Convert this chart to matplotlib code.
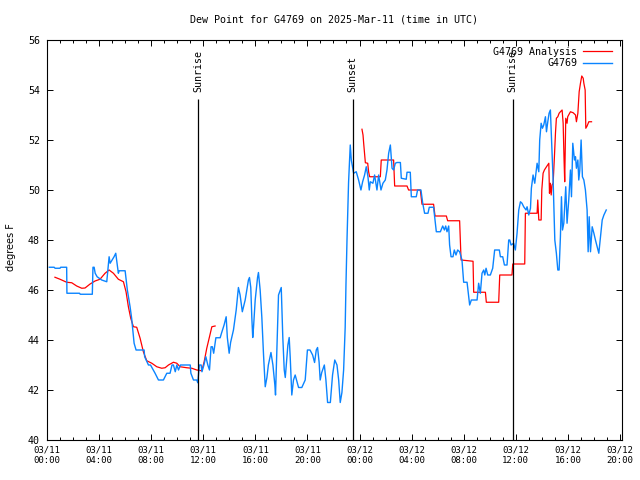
import numpy as np
import matplotlib
matplotlib.use("Agg")
import matplotlib.pyplot as plt
from matplotlib.ticker import MultipleLocator

plt.rcParams['font.family'] = ['DejaVu Sans Mono']

# G4769 observations : heures depuis 03/11 00:00 UTC, point de rosee (F)
obs_h = [0.18, 0.55, 0.62, 1.0, 1.05, 1.51, 1.53, 2.5, 2.55, 3.48, 3.53, 3.62, 3.7, 3.85, 4.2,
         4.59, 4.77, 4.85, 5.0, 5.15, 5.28, 5.48, 5.55, 6.0, 6.1, 6.17, 6.38, 6.5, 6.69, 6.84,
         7.46, 7.5, 7.79, 7.95, 8.3, 8.56, 8.94, 9.2, 9.45, 9.6, 9.71, 9.85, 9.97, 10.1, 10.25,
         11.0, 11.05, 11.25, 11.5, 11.58, 11.7, 11.84, 11.9, 12.05, 12.2, 12.35, 12.48, 12.6,
         12.7, 12.8, 12.97, 13.3, 13.4, 13.6, 13.76, 13.85, 13.99, 14.1, 14.32, 14.53, 14.7,
         14.83, 15.0, 15.22, 15.47, 15.55, 15.65, 15.73, 15.8, 15.86, 15.99, 16.17, 16.24,
         16.37, 16.5, 16.63, 16.76, 16.89, 17.0, 17.2, 17.35, 17.5, 17.55, 17.65, 17.78, 17.99,
         18.11, 18.22, 18.3, 18.42, 18.5, 18.6, 18.68, 18.8, 18.93, 19.06, 19.32, 19.57, 19.83,
         20.0, 20.2, 20.4, 20.55, 20.68, 20.78, 20.9, 20.98, 21.1, 21.3, 21.42, 21.55, 21.76,
         21.93, 22.1, 22.27, 22.4, 22.52, 22.65, 22.78, 22.9, 22.96, 23.04, 23.16, 23.29, 23.37,
         23.55, 23.75, 23.93, 24.11, 24.24, 24.39, 24.52, 24.65, 24.75, 24.83, 25.03, 25.16,
         25.34, 25.47, 25.65, 25.8, 25.98, 26.11, 26.24, 26.37, 26.5, 26.62, 26.75, 26.88,
         27.14, 27.21, 27.59, 27.65, 27.9, 27.98, 28.36, 28.46, 28.72, 28.85, 29.0, 29.26,
         29.36, 29.69, 29.77, 29.9, 30.21, 30.39, 30.52, 30.62, 30.72, 30.85, 30.92, 31.03,
         31.18, 31.28, 31.41, 31.54, 31.69, 31.87, 32.0, 32.26, 32.33, 32.46, 32.59, 33.03,
         33.15, 33.28, 33.41, 33.54, 33.62, 33.72, 33.85, 34.05, 34.23, 34.38, 34.74, 34.82,
         35.0, 35.13, 35.33, 35.46, 35.54, 35.64, 35.84, 35.97, 36.1, 36.23, 36.36, 36.48,
         36.61, 36.79, 36.87, 37.0, 37.13, 37.2, 37.33, 37.46, 37.56, 37.64, 37.77, 37.84,
         37.95, 38.05, 38.15, 38.28, 38.36, 38.46, 38.56, 38.66, 38.74, 38.87, 39.0, 39.12,
         39.23, 39.33, 39.43, 39.51, 39.59, 39.69, 39.84, 39.94, 40.07, 40.2, 40.28, 40.38,
         40.51, 40.59, 40.66, 40.77, 40.84, 40.92, 41.02, 41.12, 41.23, 41.35, 41.48, 41.56,
         41.64, 41.74, 41.87, 42.0, 42.12, 42.25, 42.38, 42.51, 42.64, 42.77, 42.95]
obs_t = [46.91, 46.91, 46.87, 46.87, 46.91, 46.91, 45.87, 45.87, 45.83, 45.83, 46.91, 46.91,
         46.67, 46.53, 46.4, 46.33, 47.33, 47.07, 47.2, 47.33, 47.47, 46.67, 46.77, 46.77,
         46.33, 46.0, 45.33, 44.87, 43.87, 43.6, 43.6, 43.33, 43.0, 43.0, 42.67, 42.4, 42.4,
         42.67, 42.67, 43.0, 43.0, 42.73, 43.0, 42.8, 43.0, 43.0, 42.67, 42.4, 42.4, 42.29,
         43.0, 43.0, 42.73, 43.0, 43.33, 43.0, 42.8, 43.73, 43.73, 43.47, 44.09, 44.09, 44.27,
         44.6, 44.93, 44.1, 43.47, 43.9, 44.4, 45.2, 46.1, 45.8, 45.13, 45.6, 46.4, 46.5, 46.1,
         44.9, 44.1, 44.5, 45.6, 46.5, 46.7, 46.0, 44.9, 43.4, 42.13, 42.5, 43.0, 43.5, 43.0,
         42.2, 41.8, 43.6, 45.8, 46.1, 44.1, 42.8, 42.5, 43.3, 43.8, 44.1, 43.3, 41.8, 42.4,
         42.6, 42.1, 42.1, 42.4, 43.6, 43.6, 43.4, 43.1, 43.6, 43.7, 43.1, 42.4, 42.7, 43.0,
         42.4, 41.5, 41.5, 42.6, 43.2, 43.0, 42.4, 41.5, 41.9, 42.8, 44.5, 46.2, 48.0, 50.3,
         51.8, 51.2, 50.67, 50.73, 50.4, 50.0, 50.33, 50.6, 50.93, 50.53, 50.0, 50.33, 50.27,
         50.6, 50.0, 50.6, 50.0, 50.27, 50.4, 50.8, 51.47, 51.8, 50.87, 50.8, 51.07, 51.1,
         51.1, 50.47, 50.43, 50.71, 50.71, 49.73, 49.73, 50.0, 50.0, 49.49, 49.07, 49.07,
         49.31, 49.31, 48.93, 48.33, 48.33, 48.56, 48.4, 48.56, 48.33, 48.56, 47.8, 47.33,
         47.33, 47.6, 47.4, 47.6, 47.53, 47.2, 46.31, 46.31, 46.0, 45.4, 45.6, 45.6, 46.27,
         45.87, 46.67, 46.8, 46.6, 46.87, 46.6, 46.6, 46.87, 47.6, 47.6, 47.33, 47.33, 47.0,
         47.0, 48.0, 48.0, 47.8, 47.87, 47.6, 48.27, 49.2, 49.53, 49.47, 49.33, 49.2, 49.33,
         49.0, 49.27, 50.07, 50.6, 50.27, 50.73, 51.07, 50.73, 52.0, 52.67, 52.47, 52.6, 52.93,
         52.33, 52.73, 53.07, 53.2, 52.13, 50.4, 48.0, 47.47, 46.8, 46.8, 48.13, 49.73, 48.4,
         48.67, 50.13, 48.67, 49.6, 50.8, 49.73, 51.87, 51.2, 51.33, 50.87, 51.2, 50.4, 50.8,
         52.0, 50.53, 50.4, 50.0, 49.2, 47.53, 48.93, 47.53, 48.53, 48.27, 48.0, 47.73, 47.47,
         48.13, 48.8, 49.0, 49.2]

# G4769 Analysis (nan = pas de donnees)
ana_h = [0.61, 1.0, 1.51, 1.9, 2.28, 2.67, 2.92, 3.31, 3.69, 4.07, 4.46, 4.77, 5.1, 5.48, 5.87,
         6.07, 6.25, 6.43, 6.64, 6.89, 7.15, 7.4, 7.66, 8.05, 8.43, 8.81, 9.07, 9.33, 9.71,
         9.97, 10.22, 10.74, 11.12, 11.5, 11.89, 12.07, 12.27, 12.48, 12.66, 12.91, 18.0,
         24.19, 24.27, 24.32, 24.45, 24.63, 24.7, 24.78, 25.6, 25.67, 26.62, 26.7, 27.65, 27.77,
         28.67, 28.8, 29.69, 29.8, 30.67, 30.77, 31.69, 31.8, 32.72, 32.77, 33.67, 33.74, 34.69,
         34.77, 35.71, 35.77, 36.69, 36.74, 37.64, 37.69, 37.77, 37.95, 38.0, 38.1, 38.2, 38.36,
         38.54, 38.59, 38.66, 38.72, 38.79, 38.87, 38.97, 39.05, 39.12, 39.23, 39.33, 39.43,
         39.56, 39.64, 39.71, 39.76, 39.84, 39.94, 39.99, 40.2, 40.41, 40.59, 40.66, 40.77,
         40.87, 40.97, 41.07, 41.18, 41.23, 41.33, 41.38, 41.48, 41.61, 41.82]
ana_t = [46.51, 46.43, 46.31, 46.29, 46.16, 46.07, 46.08, 46.24, 46.36, 46.43, 46.67, 46.8,
         46.67, 46.43, 46.33, 45.93, 45.33, 44.87, 44.53, 44.51, 44.07, 43.53, 43.17, 43.07,
         42.93, 42.87, 42.89, 43.0, 43.11, 43.07, 42.93, 42.89, 42.87, 42.8, 42.77, 43.13,
         43.67, 44.13, 44.53, 44.56, np.nan,
         52.43, 52.2, 51.87, 51.09, 51.07, 50.73, 50.53, 50.53, 51.2, 51.2, 50.16, 50.16, 50.0,
         50.0, 49.43, 49.43, 48.96, 48.96, 48.77, 48.77, 47.2, 47.15, 45.91, 45.91, 45.51,
         45.51, 46.6, 46.6, 47.04, 47.04, 49.07, 49.07, 49.6, 48.8, 48.8, 50.0, 50.67, 50.8,
         50.93, 51.07, 49.87, 50.27, 49.8, 50.2, 50.27, 51.33, 52.27, 52.87, 52.93, 53.07,
         53.13, 53.2, 52.67, 51.2, 50.33, 52.87, 52.67, 52.93, 53.13, 53.09, 53.0, 52.73, 53.07,
         53.93, 54.27, 54.56, 54.47, 54.27, 54.0, 52.47, 52.56, 52.73, 52.73]

sun_h = [11.63, 23.47, 35.77]
sun_lbl = ["Sunrise", "Sunset", "Sunrise"]

xtick_h = [0, 4, 8, 12, 16, 20, 24, 28, 32, 36, 40, 44]
xtick_lbl = ["03/11\n00:00", "03/11\n04:00", "03/11\n08:00", "03/11\n12:00", "03/11\n16:00",
             "03/11\n20:00", "03/12\n00:00", "03/12\n04:00", "03/12\n08:00", "03/12\n12:00",
             "03/12\n16:00", "03/12\n20:00"]

fig = plt.figure(figsize=(6.4, 4.8), dpi=100)
ax = fig.add_axes([47 / 640, 40 / 480, 575 / 640, 400 / 480])

ax.plot(ana_h, ana_t, color='#ff0000', lw=0.9, label='G4769 Analysis', zorder=2)
ax.plot(obs_h, obs_t, color='#0a84ff', lw=1.0, label='G4769', zorder=3)

for h, lbl in zip(sun_h, sun_lbl):
    ax.vlines(h, 40, 53.64, color='black', lw=0.9, zorder=4)
    ax.text(h, 53.92, lbl, rotation=90, ha='center', va='bottom', fontsize=7.2)

ax.set_xlim(0, 44.16)
ax.set_ylim(40, 56)
ax.set_xticks(xtick_h)
ax.set_xticklabels(xtick_lbl, fontsize=6.5, linespacing=1.2)
ax.xaxis.set_minor_locator(MultipleLocator(1))
ax.set_yticks(np.arange(40, 57, 2))
ax.tick_params(axis='y', labelsize=7.2, pad=5)
ax.tick_params(axis='x', pad=4)
ax.tick_params(which='major', direction='in', top=True, right=True, length=4.5, width=0.7)
ax.tick_params(which='minor', direction='in', top=True, right=False, length=2.3, width=0.7)
ax.tick_params(axis='y', which='minor', left=False, right=False)
for s in ax.spines.values():
    s.set_linewidth(0.8)

ax.legend(loc='upper right', bbox_to_anchor=(0.995, 1.0), markerfirst=False, frameon=False,
          fontsize=7.2, handlelength=2.9, handletextpad=0.6, labelspacing=0.15,
          borderaxespad=0.3)

fig.text(334.5 / 640, 1 - 20 / 480, "Dew Point for G4769 on 2025-Mar-11 (time in UTC)",
         ha='center', va='center', fontsize=7.2)
fig.text(11 / 640, 1 - 247 / 480, "degrees F", rotation=90, ha='center', va='center',
         fontsize=7, family='DejaVu Sans')

fig.savefig("out.png", dpi=100)
